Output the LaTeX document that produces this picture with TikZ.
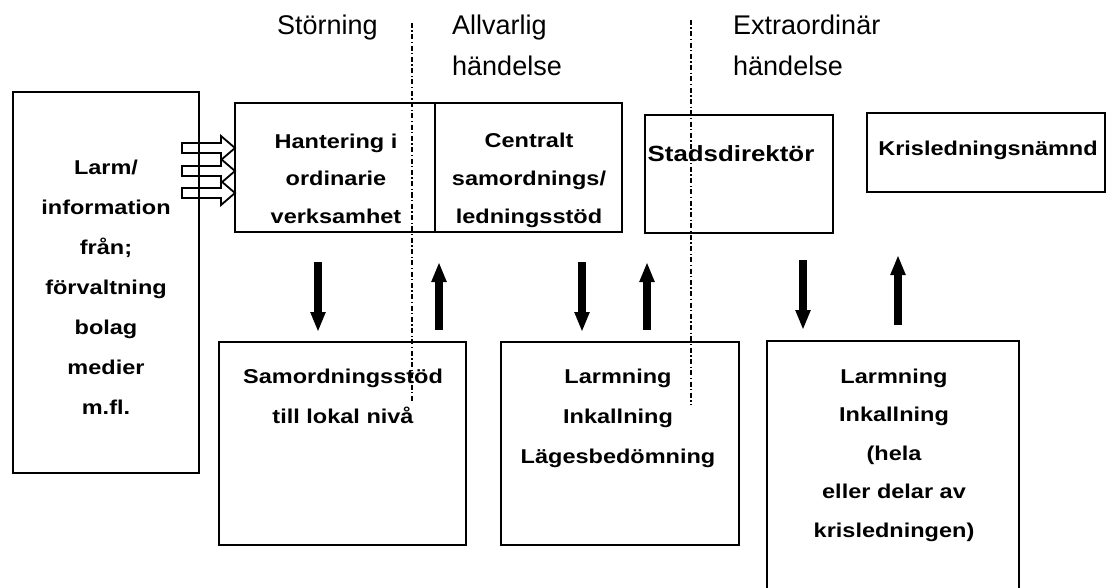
\documentclass[tikz,border=0pt]{standalone}
\usepackage{fontspec}
\setmainfont{Liberation Sans}
\newfontfamily\bxfont{Liberation Sans}[FakeStretch=1.175]
\usetikzlibrary{arrows.meta}
\tikzset{
  frame/.style={draw=black, line width=1.8pt, inner sep=0pt, fill=none},
  boxtext/.style={font=\bxfont\bfseries\fontsize{20}{39}\selectfont, align=center, anchor=base, inner sep=0pt},
  hdr/.style={font=\fontsize{27}{41}\selectfont, align=left, anchor=base west, inner sep=0pt},
  bigarrow/.style={line width=8pt, -{Triangle[length=20pt,width=14pt]}},
  hollowarrow/.style={draw=black, line width=1.8pt, line join=miter},
  divider/.style={draw=black, line width=1.4pt, dash pattern=on 5pt off 2.5pt on 1.3pt off 2.5pt}
}
\begin{document}
\begin{tikzpicture}[x=1pt,y=-1pt]
\useasboundingbox (0,0) rectangle (1107,588);
\fill[white] (0,0) rectangle (1107,588);

% headers (anchor = baseline of last line)
\node[hdr] (hstor) at (277,35) {Störning};
\node[hdr] (hallv) at (452,76) {Allvarlig\\händelse};
\node[hdr] (hextr) at (733,76) {Extraordinär\\händelse};

% boxes
\node[frame, minimum width=186, minimum height=381] (larm) at (106,282.5) {};
\node[frame, minimum width=200, minimum height=129] (hant) at (335,167.5) {};
\node[frame, minimum width=187, minimum height=129] (cent) at (528.5,167.5) {};
\node[frame, minimum width=188, minimum height=118] (stad) at (739,174) {};
\node[frame, minimum width=238, minimum height=79] (kris) at (986,152.5) {};
\node[frame, minimum width=247, minimum height=203] (samo) at (342.5,443.5) {};
\node[frame, minimum width=238, minimum height=203] (larm2) at (620,443.5) {};
\coordinate (b3bl) at (767,590);
\coordinate (b3tl) at (767,341);
\coordinate (b3tr) at (1019,341);
\coordinate (b3br) at (1019,590);
\draw[frame] (b3bl) -- (b3tl) -- (b3tr) -- (b3br);

% texts (anchor = baseline of last line)
\node[boxtext, font=\bxfont\bfseries\fontsize{20}{40}\selectfont] (tlarm) at (106,414) {Larm/\\information\\från;\\förvaltning\\bolag\\medier\\m.fl.};
\node[boxtext, font=\bxfont\bfseries\fontsize{20}{37.5}\selectfont] (thant) at (336,223) {Hantering i\\ordinarie\\verksamhet};
\node[boxtext, font=\bxfont\bfseries\fontsize{20}{38}\selectfont] (tcent) at (529,223) {Centralt\\samordnings/\\ledningsstöd};
\node[boxtext, font=\bxfont\bfseries\fontsize{22}{39}\selectfont] (tstad) at (731,161) {Stadsdirektör};
\node[boxtext] (tkris) at (988,156) {Krisledningsnämnd};
\node[boxtext, font=\bxfont\bfseries\fontsize{20}{40}\selectfont] (tsamo) at (343,423) {Samordningsstöd\\till lokal nivå};
\node[boxtext, font=\bxfont\bfseries\fontsize{20}{40}\selectfont] (tlarm2) at (618,463) {Larmning\\Inkallning\\Lägesbedömning};
\node[boxtext, font=\bxfont\bfseries\fontsize{20}{38.5}\selectfont] (tlarm3) at (894,537) {Larmning\\Inkallning\\(hela\\eller delar av\\krisledningen)};

% hollow arrows from larm to hant
\coordinate (h1) at (182,143);
\coordinate (h2) at (182,166);
\coordinate (h3) at (182,188);
\foreach \h in {h1,h2,h3}
  \draw[hollowarrow] (\h) -- ++(39,0) -- ++(0,-7) -- ++(14,12) -- ++(-14,12) -- ++(0,-7) -- ++(-39,0) -- cycle;

% big arrows
\coordinate (a1s) at (318,262); \coordinate (a1e) at (318,332);
\coordinate (a2s) at (439,330); \coordinate (a2e) at (439,262);
\coordinate (a3s) at (582,262); \coordinate (a3e) at (582,332);
\coordinate (a4s) at (647,330); \coordinate (a4e) at (647,262);
\coordinate (a5s) at (803,260); \coordinate (a5e) at (803,330);
\coordinate (a6s) at (898,325); \coordinate (a6e) at (898,255);
\draw[bigarrow] (a1s) -- (a1e);
\draw[bigarrow] (a2s) -- (a2e);
\draw[bigarrow] (a3s) -- (a3e);
\draw[bigarrow] (a4s) -- (a4e);
\draw[bigarrow] (a5s) -- (a5e);
\draw[bigarrow] (a6s) -- (a6e);

% dividers
\coordinate (d1t) at (412,23); \coordinate (d1b) at (412,403);
\coordinate (d2t) at (691,20); \coordinate (d2b) at (691,405);
\draw[divider] (d1t) -- (d1b);
\draw[divider] (d2t) -- (d2b);
\end{tikzpicture}
\end{document}
